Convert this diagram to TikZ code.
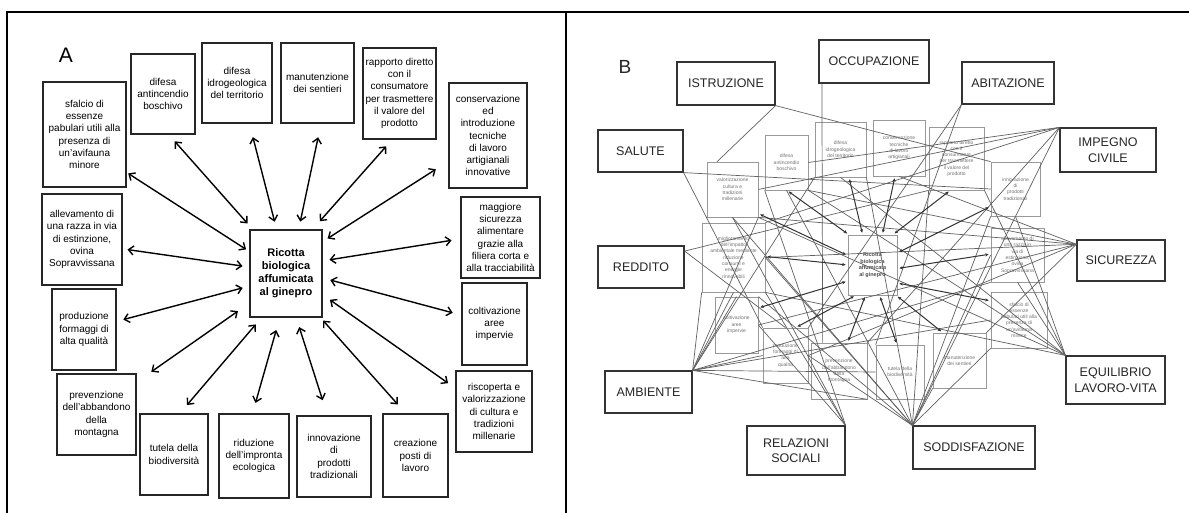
\documentclass[tikz,border=0pt]{standalone}
\usepackage{fontspec}
\setmainfont{Liberation Sans}
\usetikzlibrary{arrows.meta,calc}
\begin{document}
\begin{tikzpicture}[x=1pt,y=-1pt,
  abox/.style={draw=black!85, line width=1.1pt, align=center, inner sep=1pt, font=\fontsize{10}{12.2}\selectfont},
  cbox/.style={abox, font=\bfseries\fontsize{11}{13}\selectfont},
  arr/.style={{Straight Barb[length=5pt,width=9pt]}-{Straight Barb[length=5pt,width=9pt]}, line width=1.4pt},
  bbox/.style={draw=black!40, line width=0.7pt, align=center, inner sep=0.5pt, text=black!55, font=\fontsize{5}{6.3}\selectfont},
  bcbox/.style={bbox, text=black!70, font=\bfseries\fontsize{5.5}{6.6}\selectfont},
  hbox/.style={draw=black!80, line width=1.2pt, align=center, inner sep=1pt, text=black!85, font=\fontsize{12.5}{15.5}\selectfont},
  barr/.style={{Stealth[length=3.5pt,width=3.2pt]}-{Stealth[length=3.5pt,width=3.2pt]}, line width=1pt, draw=black!80},
  hl/.style={draw=black!62, line width=0.7pt}
]
\useasboundingbox (0,0) rectangle (1189,512);
\fill[white] (0,0) rectangle (1189,512);
% frame
\draw[line width=2.2pt] (7,513) -- (7,12) -- (1190,12);
\draw[line width=2.6pt] (566,12) -- (566,513);

% ================= PANEL A =================
\node[font=\fontsize{21}{21}\selectfont] (lA) at (66,55) {A};
\node[cbox, minimum width=72pt, minimum height=87pt] (c) at (286,273.5) {Ricotta\\biologica\\affumicata\\al ginepro};
\node[abox, minimum width=83pt, minimum height=105pt] (sfalcio) at (84.5,134.5) {sfalcio di\\essenze\\pabulari utili alla\\presenza di\\un'avifauna\\minore};
\node[abox, minimum width=64pt, minimum height=80pt] (anti) at (163,94) {difesa\\antincendio\\boschivo};
\node[abox, minimum width=70pt, minimum height=80pt] (idro) at (237,83) {difesa\\idrogeologica\\del territorio};
\node[abox, minimum width=73pt, minimum height=80pt] (manu) at (317.5,83) {manutenzione\\dei sentieri};
\node[abox, minimum width=73pt, minimum height=91pt] (rapp) at (399.5,93.5) {rapporto diretto\\con il\\consumatore\\per trasmettere\\il valore del\\prodotto};
\node[abox, minimum width=78pt, minimum height=105pt] (cons) at (488,135.5) {conservazione\\ed\\introduzione\\tecniche\\di lavoro\\artigianali\\innovative};
\node[abox, minimum width=79pt, minimum height=81pt] (magg) at (500.5,237.5) {maggiore\\sicurezza\\alimentare\\grazie alla\\filiera corta e\\alla tracciabilità};
\node[abox, minimum width=65pt, minimum height=82pt] (colt) at (494.5,324) {coltivazione\\aree\\impervie};
\node[abox, minimum width=76pt, minimum height=81pt] (risc) at (494,411.5) {riscoperta e\\valorizzazione\\di cultura e\\tradizioni\\millenarie};
\node[abox, minimum width=65pt, minimum height=83pt] (crea) at (415.5,455.5) {creazione\\posti di\\lavoro};
\node[abox, minimum width=74pt, minimum height=81pt] (inno) at (334,456.5) {innovazione\\di\\prodotti\\tradizionali};
\node[abox, minimum width=70pt, minimum height=84pt] (ridu) at (254,456) {riduzione\\dell'impronta\\ecologica};
\node[abox, minimum width=68pt, minimum height=81pt] (tute) at (174,454.5) {tutela della\\biodiversità};
\node[abox, minimum width=79pt, minimum height=81pt] (prev) at (96.5,414.5) {prevenzione\\dell'abbandono\\della\\montagna};
\node[abox, minimum width=64pt, minimum height=81pt] (prod) at (84,329.5) {produzione\\formaggi di\\alta qualità};
\node[abox, minimum width=80pt, minimum height=91pt] (alle) at (82,239.5) {allevamento di\\una razza in via\\di estinzione,\\ovina\\Sopravvissana};

\foreach \o/\oa/\ia/\so/\si in {sfalcio/-42/149/2/4, anti/-82/127/9/8, idro/-73/102/14/8, manu/-85/74/14/8,
  rapp/-99/59/9/11, cons/213/41/15/6, magg/182/19/9/7, colt/165/-7/9/8, risc/149/-30/9/9,
  crea/103/-52/12/4, inno/99/-77/16/10, ridu/92/-98/11/13, tute/82/-119/11/9,
  prev/39/-141/18/14, prod/14/-161/7/7, alle/-13/170/5/7}
  \draw[arr, shorten <=\si pt, shorten >=\so pt] (c.\ia) -- (\o.\oa);

% ================= PANEL B =================
\node[font=\fontsize{19}{19}\selectfont, text=black!85] (lB) at (625,67) {B};

% hub boxes
\node[hbox, minimum width=98pt, minimum height=43pt] (ISTR) at (726,83.5) {ISTRUZIONE};
\node[hbox, minimum width=110pt, minimum height=43pt] (OCC) at (874,61.5) {OCCUPAZIONE};
\node[hbox, minimum width=92pt, minimum height=42pt] (ABIT) at (1008,83) {ABITAZIONE};
\node[hbox, minimum width=85pt, minimum height=42pt] (SAL) at (640.5,151) {SALUTE};
\node[hbox, minimum width=96pt, minimum height=44pt] (IMP) at (1108,150) {IMPEGNO\\CIVILE};
\node[hbox, minimum width=86pt, minimum height=42pt] (RED) at (641,267) {REDDITO};
\node[hbox, minimum width=88pt, minimum height=41pt] (SIC) at (1121,260.5) {SICUREZZA};
\node[hbox, minimum width=87pt, minimum height=42pt] (AMB) at (648.5,392) {AMBIENTE};
\node[hbox, minimum width=99pt, minimum height=48pt] (EQ) at (1115.5,380) {EQUILIBRIO\\LAVORO-VITA};
\node[hbox, minimum width=98pt, minimum height=49pt] (REL) at (796,450.5) {RELAZIONI\\SOCIALI};
\node[hbox, minimum width=122pt, minimum height=43pt] (SOD) at (974,447.5) {SODDISFAZIONE};

% inner boxes
\node[bbox, minimum width=51pt, minimum height=55pt] (ris) at (732.5,189.5) {valorizzazione\\cultura e\\tradizioni\\millenarie};
\node[bbox, minimum width=43pt, minimum height=55pt] (anti2) at (786.5,162.5) {difesa\\antincendio\\boschivo};
\node[bbox, minimum width=51pt, minimum height=55pt] (idro2) at (840.5,149.5) {difesa\\idrogeologica\\del territorio};
\node[bbox, minimum width=52pt, minimum height=56pt] (cons2) at (899,148) {conservazione\\tecniche\\di lavoro\\artigianali};
\node[bbox, minimum width=55pt, minimum height=63pt] (rapp2) at (956.5,158.5) {rapporto diretto\\con il\\consumatore\\per trasmettere\\il valore del\\prodotto};
\node[bbox, minimum width=49pt, minimum height=54pt] (inno2) at (1015.5,189) {innovazione\\di\\prodotti\\tradizionali};
\node[bbox, minimum width=63pt, minimum height=69pt] (mig) at (733.5,257.5) {miglioramento\\dell'impatto\\ambientale mediante\\riduzione\\consumi e\\energie\\rinnovabili};
\node[bbox, minimum width=53pt, minimum height=54pt] (alle2) at (1017.5,255) {allevamento di\\una razza in\\via di\\estinzione,\\ovina\\Sopravvissana};
\node[bbox, minimum width=43pt, minimum height=56pt] (colt2) at (736.5,325) {coltivazione\\aree\\impervie};
\node[bbox, minimum width=56pt, minimum height=56pt] (sfa2) at (1019,320) {sfalcio di\\essenze\\pabulari utili alla\\presenza di\\un'avifauna\\minore};
\node[bbox, minimum width=45pt, minimum height=55pt] (prod2) at (785.5,355.5) {produzione\\formaggi di\\alta\\qualità};
\node[bbox, minimum width=56pt, minimum height=56pt] (prev2) at (839,371) {prevenzione\\dell'abbandono\\della\\montagna};
\node[bbox, minimum width=48pt, minimum height=54pt] (tut2) at (900,372) {tutela della\\biodiversità};
\node[bbox, minimum width=53pt, minimum height=55pt] (man2) at (959.5,360.5) {manutenzione\\dei sentieri};
\node[bcbox, minimum width=49pt, minimum height=60pt] (cen2) at (872.5,265) {Ricotta\\biologica\\affumicata\\al ginepro};

% hub lines
\draw[hl] (ISTR.south east) -- (ris.119);
\draw[hl] (ISTR.south east) -- (inno2.north west);
\draw[hl] (SAL.south east) -- (inno2.west);
\draw[hl] (SAL.south east) -- (prod2.north west);
\draw[hl] (OCC.-157) -- (prev2.120);
\draw[hl] (ABIT.south west) -- (tut2.north west);
\draw[hl] (ABIT.south west) -- (prod2.north east);
\draw[hl] (IMP.north west) -- (ris.east);
\draw[hl] (IMP.north west) -- (mig.north east);
\draw[hl] (IMP.north west) -- (anti2.east);
\draw[hl] (IMP.north west) -- (SOD.north west);
\draw[hl] (IMP.north west) -- (prev2.north east);
\draw[hl] (RED.20) -- (rapp2.south west);
\draw[hl] (RED.20) -- (prod2.north);
\draw[hl] (SIC.160) -- (ris.south east);
\draw[hl] (SIC.160) -- (anti2.south east);
\draw[hl] (SIC.160) -- (mig.east);
\draw[hl] (SIC.160) -- (cons2.south);
\draw[hl] (SIC.160) -- (prod2.east);
\draw[hl] (SIC.160) -- (man2.north east);
\draw[hl] (SIC.160) -- (colt2.east);
\draw[hl] (EQ.north west) -- (ris.south east);
\draw[hl] (EQ.north west) -- (idro2.south);
\draw[hl] (EQ.north west) -- (rapp2.south east);
\draw[hl] (EQ.north west) -- (inno2.south);
\draw[hl] (EQ.north west) -- (mig.south east);
\draw[hl] (EQ.north west) -- (alle2.south);
\draw[hl] (EQ.north west) -- (anti2.south east);
\draw[hl] (SOD.north west) -- (ris.south);
\draw[hl] (SOD.north west) -- (mig.east);
\draw[hl] (SOD.north west) -- (colt2.north east);
\draw[hl] (SOD.north west) -- (anti2.south);
\draw[hl] (SOD.north west) -- (idro2.south east);
\draw[hl] (SOD.north west) -- (rapp2.south west);
\draw[hl] (SOD.north west) -- (inno2.south west);
\draw[hl] (SOD.north west) -- (alle2.west);
\draw[hl] (SOD.north west) -- (sfa2.south west);
\draw[hl] (SOD.north west) -- (man2.south west);
\draw[hl] (SOD.north west) -- (prod2.east);
\draw[hl] (AMB.north east) -- (mig.south west);
\draw[hl] (AMB.north east) -- (mig.south);
\draw[hl] (AMB.north east) -- (ris.south east);
\draw[hl] (AMB.north east) -- (idro2.south west);
\draw[hl] (AMB.north east) -- (prod2.west);
\draw[hl] (AMB.north east) -- (tut2.west);
\draw[hl] (AMB.north east) -- (prev2.south east);
\draw[hl] (AMB.north east) -- (sfa2.west);
\draw[hl] (AMB.north east) -- (alle2.south west);
\draw[hl] (AMB.north east) -- (colt2.north);
\draw[hl] (REL.north east) -- (mig.south east);
\draw[hl] (REL.north east) -- (ris.south);
\draw[hl] (REL.north east) -- (colt2.east);
\draw[hl] (REL.north east) -- (anti2.south west);

% arrows from centre
\foreach \o/\oa/\ia in {anti2/-89/128, idro2/-73/108, cons2/-98/72, rapp2/-101/56, inno2/215/26,
  ris/-43/159, mig/2/180, alle2/178/-8, colt2/38/213, prod2/70/241, prev2/73/257,
  tut2/96/-77, man2/121/-52, sfa2/146/-36}
  \draw[barr, shorten <=2pt, shorten >=2pt] (cen2.\ia) -- (\o.\oa);
\end{tikzpicture}
\end{document}
